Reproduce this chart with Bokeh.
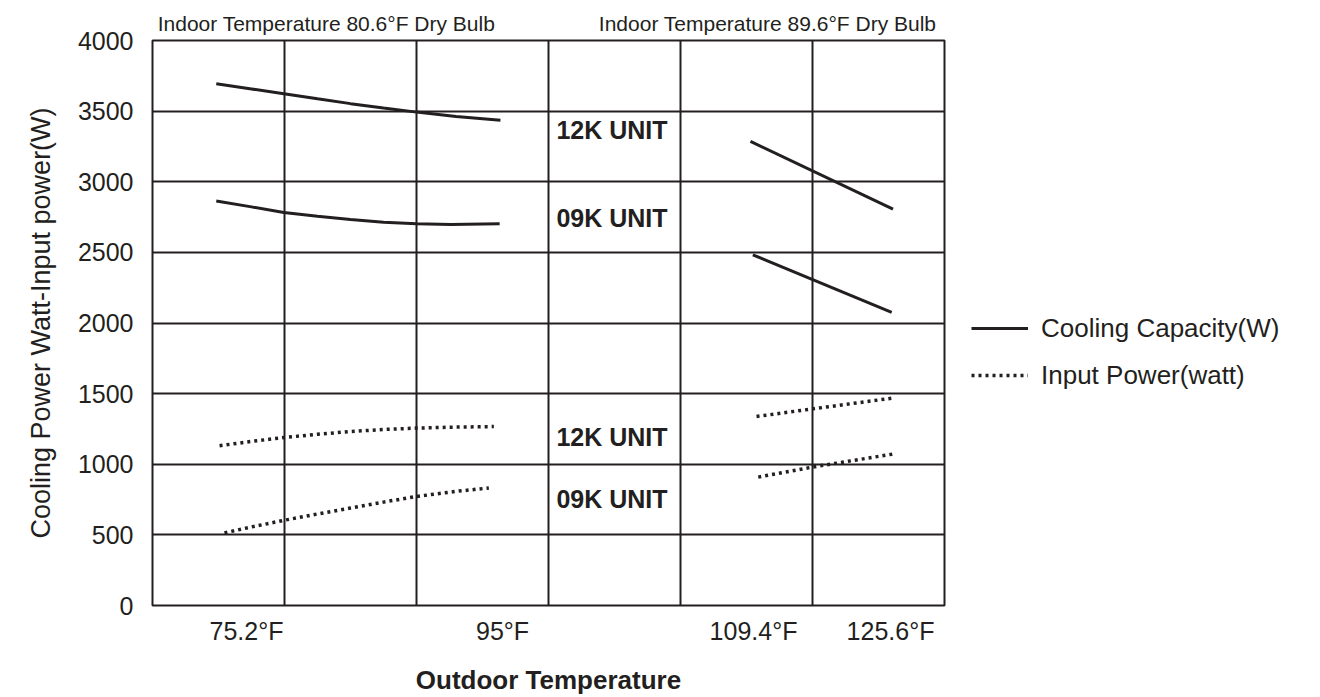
from bokeh.plotting import figure
from bokeh.layouts import row
from bokeh.models import (Range1d, FixedTicker, LinearAxis, CustomJSTickFormatter,
                          Legend, LegendItem)
from bokeh.core.properties import value
from bokeh.embed import file_html
from bokeh.resources import INLINE

# ---- data (x in grid-column units: vertical grid lines at 1..5) ----
x_tick_pos = [0.712, 2.652, 4.553, 5.591]
x_tick_labels = ["75.2°F", "95°F", "109.4°F", "125.6°F"]
top_tick_pos = [1.318, 4.66]
top_tick_labels = ["Indoor Temperature 80.6°F Dry Bulb", "Indoor Temperature 89.6°F Dry Bulb"]
y_tick_vals = [0, 500, 1000, 1500, 2000, 2500, 3000, 3500, 4000]

# Cooling capacity (W)
cap12_left_x = [0.483, 0.75, 0.995, 1.25, 1.5, 1.75, 2.0, 2.3, 2.636]
cap12_left_y = [3694, 3657, 3623, 3587, 3553, 3522, 3493, 3462, 3435]
cap09_left_x = [0.483, 0.75, 0.995, 1.25, 1.5, 1.75, 2.0, 2.26, 2.63]
cap09_left_y = [2864, 2822, 2783, 2755, 2732, 2714, 2703, 2698, 2703]
cap12_right_x = [4.53, 5.61]
cap12_right_y = [3286, 2806]
cap09_right_x = [4.548, 5.60]
cap09_right_y = [2483, 2076]

# Input power (watt)
inp12_left_x = [0.508, 0.75, 0.995, 1.25, 1.5, 1.75, 2.0, 2.3, 2.586]
inp12_left_y = [1131, 1162, 1189, 1212, 1232, 1246, 1256, 1263, 1267]
inp09_left_x = [0.545, 0.75, 0.995, 1.25, 1.5, 1.75, 2.0, 2.3, 2.548]
inp09_left_y = [514, 556, 603, 648, 690, 732, 772, 808, 832]
inp12_right_x = [4.576, 5.0, 5.604]
inp12_right_y = [1338, 1392, 1468]
inp09_right_x = [4.589, 5.0, 5.608]
inp09_right_y = [909, 980, 1072]

unit_labels = ["12K UNIT", "09K UNIT", "12K UNIT", "09K UNIT"]
unit_label_y = [3364, 2742, 1194, 756]

legend_labels = ["Cooling Capacity(W)", "Input Power(watt)"]

INK = "#231f20"
FONT = "Liberation Sans"

p = figure(width=946, height=697, output_backend="svg", toolbar_location=None,
           x_range=Range1d(0, 6), y_range=Range1d(0, 4000),
           min_border_left=152, min_border_right=2, min_border_top=40,
           min_border_bottom=91, x_axis_location="below")
p.background_fill_color = "white"
p.border_fill_color = "white"
p.outline_line_color = INK
p.outline_line_width = 2

# grid
p.xgrid.ticker = FixedTicker(ticks=[1, 2, 3, 4, 5])
p.ygrid.ticker = FixedTicker(ticks=[500, 1000, 1500, 2000, 2500, 3000, 3500])
for g in (p.xgrid, p.ygrid):
    g.grid_line_color = INK
    g.grid_line_width = 2
    g.grid_line_alpha = 1

# bottom axis
xa = p.xaxis[0]
xa.ticker = FixedTicker(ticks=x_tick_pos)
xa.formatter = CustomJSTickFormatter(args=dict(labels=x_tick_labels), code="return labels[index];")
xa.axis_label = "Outdoor Temperature"
xa.axis_label_text_font = FONT
xa.axis_label_text_font_style = "bold"
xa.axis_label_text_font_size = "26px"
xa.axis_label_text_color = INK
xa.axis_label_standoff = 17
xa.major_label_text_font = FONT
xa.major_label_text_font_size = "25px"
xa.major_label_text_color = INK
xa.major_label_standoff = 11

# left axis
ya = p.yaxis[0]
ya.ticker = FixedTicker(ticks=y_tick_vals)
ya.axis_label = "Cooling Power Watt-Input power(W)"
ya.axis_label_text_font = FONT
ya.axis_label_text_font_style = "normal"
ya.axis_label_text_font_size = "27px"
ya.axis_label_text_color = INK
ya.axis_label_standoff = 19
ya.major_label_text_font = FONT
ya.major_label_text_font_size = "25px"
ya.major_label_text_color = INK
ya.major_label_standoff = 19

# top axis with the indoor-temperature captions
ta = LinearAxis(ticker=FixedTicker(ticks=top_tick_pos),
                formatter=CustomJSTickFormatter(args=dict(labels=top_tick_labels),
                                                code="return labels[index];"))
ta.major_label_text_font = FONT
ta.major_label_text_font_size = "21px"
ta.major_label_text_color = INK
ta.major_label_standoff = 6
p.add_layout(ta, "above")

for ax in (xa, ya, ta):
    ax.axis_line_color = None
    ax.major_tick_line_color = None
    ax.minor_tick_line_color = None
    ax.major_tick_out = 0
    ax.major_tick_in = 0
    ax.minor_tick_out = 0
    ax.minor_tick_in = 0

# curves
solid = dict(line_color=INK, line_width=3)
dotted = dict(line_color=INK, line_width=3.5, line_dash="3 4")
p.line(cap12_left_x, cap12_left_y, **solid)
p.line(cap09_left_x, cap09_left_y, **solid)
p.line(cap12_right_x, cap12_right_y, **solid)
p.line(cap09_right_x, cap09_right_y, **solid)
p.line(inp12_left_x, inp12_left_y, **dotted)
p.line(inp09_left_x, inp09_left_y, **dotted)
p.line(inp12_right_x, inp12_right_y, **dotted)
p.line(inp09_right_x, inp09_right_y, **dotted)

# unit labels
p.text(x=[3.06] * len(unit_labels), y=unit_label_y, text=unit_labels,
       text_font=value(FONT), text_font_style="bold", text_font_size="25px",
       text_color=INK, text_align="left", text_baseline="middle")

# ---- legend panel to the right of the chart ----
# (its range is set away from the data so the proxy lines stay hidden;
#  they only supply the legend's line samples)
pl = figure(width=374, height=697, output_backend="svg", toolbar_location=None,
            x_range=Range1d(100, 101), y_range=Range1d(100000, 100001),
            x_axis_location=None, y_axis_location=None, min_border=0)
pl.outline_line_color = None
pl.xgrid.visible = False
pl.ygrid.visible = False
pl.background_fill_color = "white"
pl.border_fill_color = "white"
l_cap = pl.line(cap12_left_x, cap12_left_y, **solid)
l_inp = pl.line(inp12_left_x, inp12_left_y, **dotted)

legend = Legend(items=[LegendItem(label=legend_labels[0], renderers=[l_cap]),
                       LegendItem(label=legend_labels[1], renderers=[l_inp])],
                location=(25, 208), orientation="vertical")
legend.border_line_color = None
legend.background_fill_alpha = 0
legend.padding = 0
legend.margin = 0
legend.spacing = 3
legend.glyph_width = 57
legend.glyph_height = 44
legend.label_height = 44
legend.label_standoff = 13
legend.label_text_font = FONT
legend.label_text_font_size = "26px"
legend.label_text_color = INK
pl.add_layout(legend, "center")

layout = row(p, pl, spacing=0)
open("out.html", "w").write(file_html(layout, INLINE))
